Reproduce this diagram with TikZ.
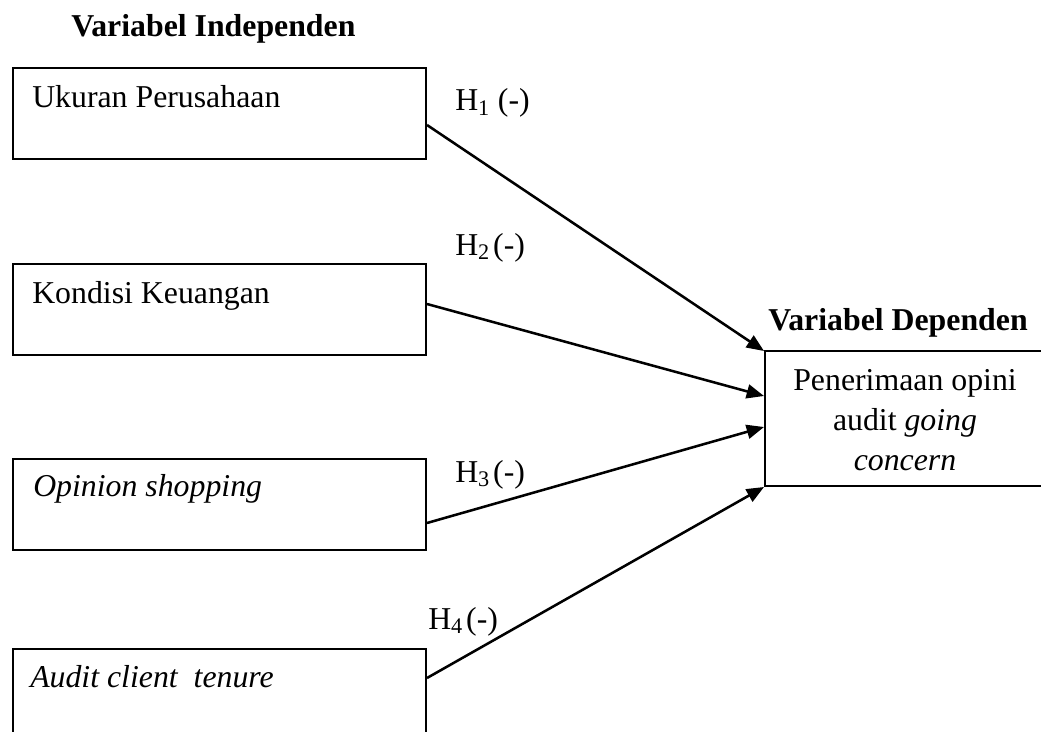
\documentclass[tikz,border=0pt]{standalone}
\usepackage{fontspec}
\setmainfont{Liberation Serif}
\usetikzlibrary{arrows.meta,calc}
\begin{document}
\begin{tikzpicture}[x=0.75pt,y=-0.75pt,
  font=\fontsize{23.85}{28}\selectfont,
  box/.style={draw, line width=1.5pt, rectangle, anchor=north west, inner sep=0pt},
  lbl/.style={anchor=base west, inner sep=0pt},
  ctr/.style={anchor=base, inner sep=0pt},
  hd/.style={anchor=base west, inner sep=0pt, font=\fontsize{23.85}{28}\selectfont\bfseries},
  conn/.style={line width=1.9pt, -{Triangle[length=13pt,width=10.5pt]}}]
\useasboundingbox (0,0) rectangle (1041,731);

% headings
\node[hd] (vi) at (71,37) {Variabel Independen};
\node[hd] (vd) at (768,330) {Variabel Dependen};

% independent boxes
\node[box, minimum width=413*0.75pt, minimum height=91*0.75pt] (b1) at (12,67) {};
\node[box, minimum width=413*0.75pt, minimum height=91*0.75pt] (b2) at (12,263) {};
\node[box, minimum width=413*0.75pt, minimum height=91*0.75pt] (b3) at (12,458) {};
\node[box, minimum width=413*0.75pt, minimum height=91*0.75pt] (b4) at (12,648) {};

\node[lbl] (t1) at (32,108) {Ukuran Perusahaan};
\node[lbl] (t2) at (32,303) {Kondisi Keuangan};
\node[lbl] (t3) at (33,496) {\itshape Opinion shopping};
\node[lbl] (t4) at (30,687) {\itshape Audit client\hspace{0.25em} tenure};

% dependent box
\node[box, minimum width=282*0.75pt, minimum height=135*0.75pt] (dv) at (764,350) {};
\node[ctr] (d1) at (905,390) {Penerimaan opini};
\node[ctr] (d2) at (905,430) {audit \textit{going}};
\node[ctr] (d3) at (905,470) {\itshape concern};

% hypothesis labels
\node[lbl] (h1) at (455,111) {H\textsubscript{1} (-)};
\node[lbl] (h2) at (455,255) {H\textsubscript{2}\hspace{0.1em}(-)};
\node[lbl] (h3) at (455,482) {H\textsubscript{3}\hspace{0.1em}(-)};
\node[lbl] (h4) at (428,629) {H\textsubscript{4}\hspace{0.1em}(-)};

% connectors
\draw[conn] ($(b1.north east)+(0,58)$) -- ($(dv.north west)+(0,1)$);
\draw[conn] ($(b2.north east)+(0,41)$) -- ($(dv.north west)+(0,46)$);
\draw[conn] ($(b3.north east)+(0,65)$) -- ($(dv.north west)+(0,77)$);
\draw[conn] ($(b4.north east)+(0,30)$) -- (dv.south west);
\end{tikzpicture}
\end{document}
